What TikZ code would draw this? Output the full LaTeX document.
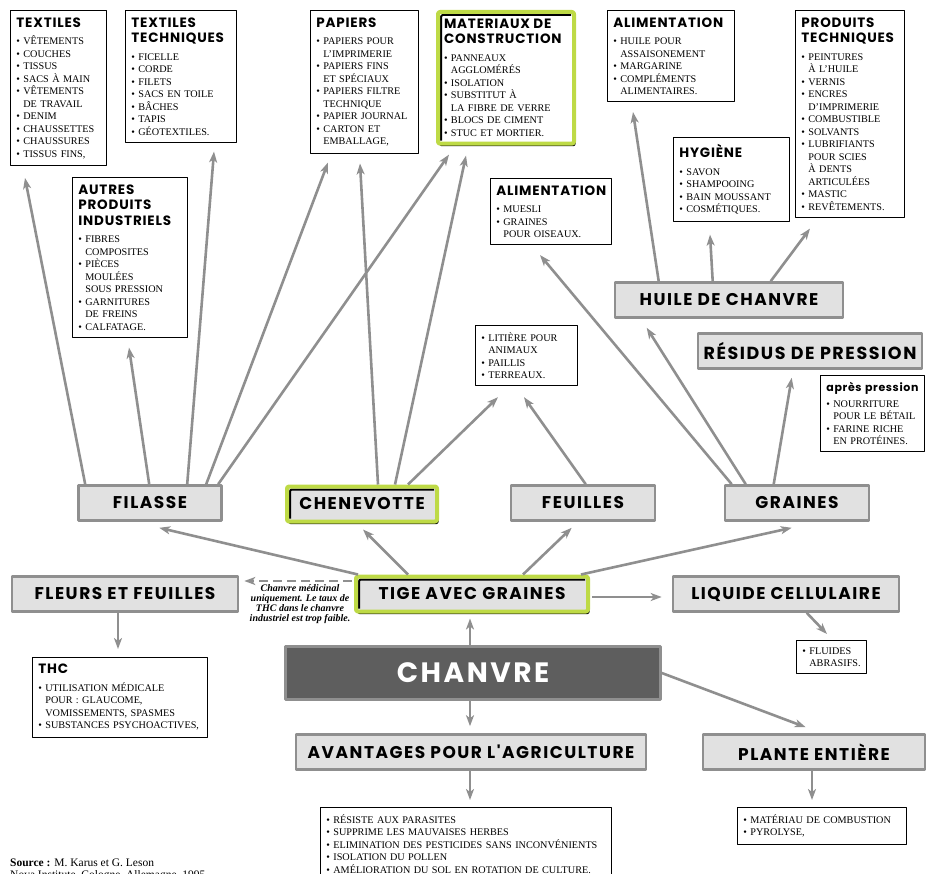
\documentclass[tikz,border=0pt]{standalone}
\usepackage{fontspec}
\setmainfont{Liberation Serif}
\newfontfamily\titre[LetterSpace=6]{Poppins}
\newfontfamily\etiq[LetterSpace=9]{Poppins}
\usetikzlibrary{arrows.meta,calc,shadows}
\definecolor{fondgris}{RGB}{225,225,225}
\definecolor{bordgris}{RGB}{143,143,143}
\definecolor{fondfonce}{RGB}{94,94,94}
\definecolor{vertclair}{RGB}{190,218,70}
\newcommand{\puce}{\textbullet\ }
\newcommand{\suite}{\phantom{\textbullet\ }}
\newcommand{\tete}[1]{{\titre\bfseries\fontsize{13.5}{15.5}\selectfont #1\par}\vspace{5pt}}
\tikzset{
  liste/.style={draw=black, line width=0.8pt, fill=white, anchor=north west, align=left, inner xsep=6pt, inner ysep=7pt, font=\fontsize{10.2}{12.5}\selectfont},
  etiquette/.style={draw=bordgris, line width=2.6pt, fill=fondgris, minimum height=35pt, font=\etiq\bfseries\fontsize{17}{18}\selectfont},
  vert/.style={draw=vertclair, line width=4pt, rounded corners=2pt,
    drop shadow={shadow xshift=1.5pt, shadow yshift=-2.5pt, fill=black, opacity=1},
    path picture={\draw[black, line width=2pt] ([shift={(3pt,3pt)}]path picture bounding box.south west) -- ([shift={(3pt,-3pt)}]path picture bounding box.north west) -- ([shift={(-3pt,-3pt)}]path picture bounding box.north east);}},
  fleche/.style={draw=bordgris, line width=2.6pt, -{Stealth[length=11pt, width=8pt, inset=3pt]}},
}
\begin{document}
\begin{tikzpicture}[x=1pt, y=-1pt, line join=round]
\useasboundingbox (0,0) rectangle (926,874);
% produits
\node[liste, text width=84pt] (textiles) at (10,10) {\tete{TEXTILES}\puce VÊTEMENTS\\\puce COUCHES\\\puce TISSUS\\\puce SACS À MAIN\\\puce VÊTEMENTS\\\suite DE TRAVAIL\\\puce DENIM\\\puce CHAUSSETTES\\\puce CHAUSSURES\\\puce TISSUS FINS,};
\node[liste, text width=99pt] (textech) at (125,10) {\tete{TEXTILES\\TECHNIQUES}\puce FICELLE\\\puce CORDE\\\puce FILETS\\\puce SACS EN TOILE\\\puce BÂCHES\\\puce TAPIS\\\puce GÉOTEXTILES.};
\node[liste, text width=103pt] (autres) at (72,177) {\tete{AUTRES\\PRODUITS\\INDUSTRIELS}\puce FIBRES\\\suite COMPOSITES\\\puce PIÈCES\\\suite MOULÉES\\\suite SOUS PRESSION\\\puce GARNITURES\\\suite DE FREINS\\\puce CALFATAGE.};
\node[liste, text width=96pt] (papiers) at (310,10) {\tete{PAPIERS}\puce PAPIERS POUR\\\suite L'IMPRIMERIE\\\puce PAPIERS FINS\\\suite ET SPÉCIAUX\\\puce PAPIERS FILTRE\\\suite TECHNIQUE\\\puce PAPIER JOURNAL\\\puce CARTON ET\\\suite EMBALLAGE,};
\node[liste, vert, fill=white, text width=124pt] (materiaux) at (436,10) {\tete{MATERIAUX DE\\CONSTRUCTION}\puce PANNEAUX\\\suite AGGLOMÉRÉS\\\puce ISOLATION\\\puce SUBSTITUT À\\\suite LA FIBRE DE VERRE\\\puce BLOCS DE CIMENT\\\puce STUC ET MORTIER.};
\node[liste, text width=115pt] (alimhuile) at (607,10) {\tete{ALIMENTATION}\puce HUILE POUR\\\suite ASSAISONEMENT\\\puce MARGARINE\\\puce COMPLÉMENTS\\\suite ALIMENTAIRES.};
\node[liste, text width=104pt] (hygiene) at (673,137) {\tete{HYGIÈNE}\puce SAVON\\\puce SHAMPOOING\\\puce BAIN MOUSSANT\\\puce COSMÉTIQUES.};
\node[liste, text width=97pt] (prodtech) at (795,10) {\tete{PRODUITS\\TECHNIQUES}\puce PEINTURES\\\suite À L'HUILE\\\puce VERNIS\\\puce ENCRES\\\suite D'IMPRIMERIE\\\puce COMBUSTIBLE\\\puce SOLVANTS\\\puce LUBRIFIANTS\\\suite POUR SCIES\\\suite À DENTS\\\suite ARTICULÉES\\\puce MASTIC\\\puce REVÊTEMENTS.};
\node[liste, text width=109pt] (alimgraines) at (490,178) {\tete{ALIMENTATION}\puce MUESLI\\\puce GRAINES\\\suite POUR OISEAUX.};
\node[liste, text width=90pt] (litiere) at (475,325) {\puce LITIÈRE POUR\\\suite ANIMAUX\\\puce PAILLIS\\\puce TERREAUX.};
\node[liste, text width=92pt] (apres) at (820,375) {{\titre\bfseries\fontsize{11}{13}\selectfont après pression\par}\vspace{3pt}\puce NOURRITURE\\\suite POUR LE BÉTAIL\\\puce FARINE RICHE\\\suite EN PROTÉINES.};
\node[liste, text width=163pt] (thc) at (32,657) {\tete{THC}\puce UTILISATION MÉDICALE\\\suite POUR : GLAUCOME,\\\suite VOMISSEMENTS, SPASMES\\\puce SUBSTANCES PSYCHOACTIVES,};
\node[liste, text width=58pt] (fluides) at (796,640) {\puce FLUIDES\\\suite ABRASIFS.};
\node[liste, text width=279pt] (avantliste) at (320,807) {\puce RÉSISTE AUX PARASITES\\\puce SUPPRIME LES MAUVAISES HERBES\\\puce ELIMINATION DES PESTICIDES SANS INCONVÉNIENTS\\\puce ISOLATION DU POLLEN\\\puce AMÉLIORATION DU SOL EN ROTATION DE CULTURE.};
\node[liste, text width=157pt] (planteliste) at (737,807) {\puce MATÉRIAU DE COMBUSTION\\\puce PYROLYSE,};
% parties de la plante
\node[etiquette, minimum width=228pt] (huile) at (729,300) {HUILE DE CHANVRE};
\node[etiquette, minimum width=224pt, font=\etiq\bfseries\fontsize{17.5}{18}\selectfont] (residus) at (810,351) {RÉSIDUS DE PRESSION};
\node[etiquette, minimum width=143pt] (filasse) at (150,503) {FILASSE};
\node[etiquette, vert, minimum width=150pt] (chenevotte) at (362,504) {CHENEVOTTE};
\node[etiquette, minimum width=144pt] (feuilles) at (583,503) {FEUILLES};
\node[etiquette, minimum width=144pt] (graines) at (797,503) {GRAINES};
\node[etiquette, minimum width=226pt] (fleurs) at (125,594) {FLEURS ET FEUILLES};
\node[etiquette, vert, minimum width=232pt] (tige) at (472,594) {TIGE AVEC GRAINES};
\node[etiquette, minimum width=226pt] (liquide) at (786,594) {LIQUIDE CELLULAIRE};
\node[draw=bordgris, line width=2.6pt, fill=fondfonce, text=white, minimum width=375pt, minimum height=53pt, font=\etiq\bfseries\fontsize{28}{30}\selectfont] (chanvre) at (473,673) {CHANVRE};
\node[etiquette, minimum width=350pt] (avantages) at (471,752) {AVANTAGES POUR L'AGRICULTURE};
\node[etiquette, minimum width=222pt] (plante) at (814,752) {PLANTE ENTIÈRE};
\node[align=center, inner sep=0pt, font=\fontsize{10}{10.2}\selectfont\bfseries\itshape] (note) at (300,604) {Chanvre médicinal\\uniquement. Le taux de\\THC dans le chanvre\\industriel est trop faible.};
\node[anchor=base west, align=left, inner sep=0pt, font=\fontsize{11.5}{12}\selectfont] (source) at (10,878) {\textbf{Source :} M. Karus et G. Leson\\Nova Institute, Cologne, Allemagne, 1995};
% fleches
\draw[fleche] ($(filasse.north west)+(8,0)$) -- ($(textiles.south west)+(15,12)$);
\draw[fleche] ($(filasse.north west)+(72,0)$) -- ($(autres.south west)+(57,10)$);
\draw[fleche] ($(filasse.north west)+(110,0)$) -- ($(textech.south west)+(89,9)$);
\draw[fleche] ($(filasse.north west)+(129,0)$) -- ($(papiers.south west)+(18,9)$);
\draw[fleche] ($(filasse.north west)+(141,0)$) -- ($(materiaux.south west)+(13,9)$);
\draw[fleche] ($(chenevotte.north west)+(93,0)$) -- ($(papiers.south west)+(50,10)$);
\draw[fleche] ($(chenevotte.north west)+(110,0)$) -- ($(materiaux.south west)+(30,10)$);
\draw[fleche] ($(chenevotte.north west)+(123,0)$) -- ($(litiere.south west)+(23,11)$);
\draw[fleche] ($(feuilles.north west)+(76,0)$) -- ($(litiere.south west)+(49,11)$);
\draw[fleche] ($(graines.north west)+(8,0)$) -- ($(alimgraines.south west)+(50,10)$);
\draw[fleche] ($(graines.north west)+(22,0)$) -- ($(huile.south west)+(33,9)$);
\draw[fleche] ($(graines.north west)+(50,0)$) -- ($(residus.south west)+(95,8)$);
\draw[fleche] ($(huile.north west)+(45,0)$) -- ($(alimhuile.south west)+(26,10)$);
\draw[fleche] ($(huile.north west)+(99,0)$) -- ($(hygiene.south west)+(37,13)$);
\draw[fleche] ($(huile.north west)+(157,0)$) -- ($(prodtech.south west)+(15,11)$);
\draw[fleche] ($(tige.north west)+(4,0)$) -- ($(filasse.south west)+(82,6)$);
\draw[fleche] ($(tige.north west)+(54,0)$) -- ($(chenevotte.south west)+(78,6)$);
\draw[fleche] ($(tige.north west)+(169,0)$) -- ($(feuilles.south west)+(62,6)$);
\draw[fleche] ($(tige.north west)+(227,0)$) -- ($(graines.south west)+(68,6)$);
\draw[fleche] ($(tige.east)+(2,3)$) -- ($(liquide.west)+(-10,3)$);
\draw[fleche, dash pattern=on 9pt off 5pt, line width=2.2pt] ($(tige.west)+(-2,-13)$) -- ($(fleurs.east)+(5,-13)$);
\draw[fleche] ($(chanvre.north)+(-3,0)$) -- ($(tige.south)+(-2,5)$);
\draw[fleche] ($(chanvre.south)+(-3,0)$) -- ($(avantages.north)+(-1,-7)$);
\draw[fleche] (chanvre.east) -- ($(plante.north west)+(104,-6)$);
\draw[fleche] ($(fleurs.south)+(-7,0)$) -- ($(thc.north west)+(86,-8)$);
\draw[fleche] ($(liquide.south west)+(135,0)$) -- ($(fluides.north west)+(31,-6)$);
\draw[fleche] ($(plante.south)+(-2,0)$) -- ($(planteliste.north west)+(75,-7)$);
\draw[fleche] ($(avantages.south)+(-1,0)$) -- ($(avantliste.north west)+(150,-7)$);
\end{tikzpicture}
\end{document}
